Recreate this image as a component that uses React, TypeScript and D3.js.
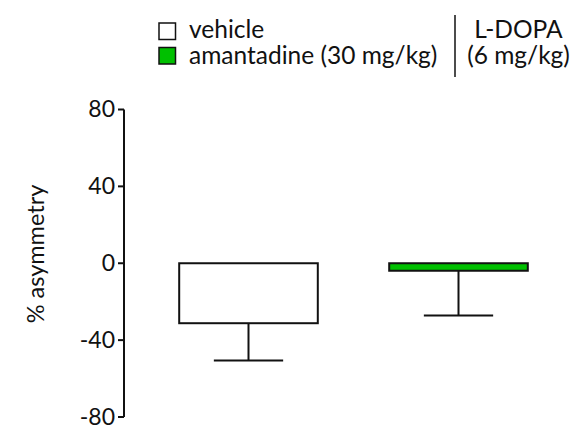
import React from "react";
import * as d3 from "d3";

const categories = ["vehicle", "amantadine (30 mg/kg)"];
const means = [-31.2, -3.9];
const errors = [19.4, 23.3];
const colors = ["#ffffff", "#00c000"];
const yTicks = [80, 40, 0, -40, -80];

const W = 571;
const H = 426;
const FONT = "Lato, 'Open Sans', sans-serif";

export default function App() {
  const y = d3.scaleLinear().domain([-80, 80]).range([417, 109.5]);
  const x = d3
    .scaleBand<string>()
    .domain(categories)
    .range([143.5, 563.5])
    .paddingInner(0.34)
    .paddingOuter(0.17);
  const axisX = 124;
  const bw = x.bandwidth();
  const stroke = "#111";

  return (
    <svg
      width={W}
      height={H}
      style={{ position: "absolute", left: 0, top: 0, background: "#fff" }}
      fontFamily={FONT}
    >
      {/* legend */}
      <g>
        <rect x={159} y={23} width={16.5} height={16.5} fill={colors[0]} stroke={stroke} strokeWidth={1.5} />
        <rect x={159} y={47.5} width={16.5} height={16.5} fill={colors[1]} stroke={stroke} strokeWidth={1.5} />
        <text x={189} y={37.5} fontSize={24.5} fill="#111">{categories[0]}</text>
        <text x={189} y={63.5} fontSize={24.5} fill="#111">{categories[1]}</text>
        <line x1={455} x2={455} y1={15} y2={77} stroke={stroke} strokeWidth={1.5} />
        <text x={518.5} y={37.5} fontSize={24.5} fill="#111" textAnchor="middle">L-DOPA</text>
        <text x={518.5} y={63.5} fontSize={24.5} fill="#111" textAnchor="middle">(6 mg/kg)</text>
      </g>

      {/* y axis */}
      <line x1={axisX} x2={axisX} y1={y(80)} y2={y(-80)} stroke={stroke} strokeWidth={2} />
      {yTicks.map((t) => (
        <g key={t}>
          <line x1={axisX - 6} x2={axisX} y1={y(t)} y2={y(t)} stroke={stroke} strokeWidth={2} />
          <text
            x={axisX - 9}
            y={y(t)}
            dy="0.34em"
            textAnchor="end"
            fontSize={23}
            fill="#111"
          >
            {t}
          </text>
        </g>
      ))}
      <text
        transform={`translate(${44},${254}) rotate(-90)`}
        textAnchor="middle"
        fontSize={23.5}
        fill="#111"
      >
        % asymmetry
      </text>

      {/* bars */}
      {categories.map((c, i) => {
        const x0 = x(c)!;
        const cx = x0 + bw / 2;
        const top = y(Math.max(0, means[i]));
        const bot = y(Math.min(0, means[i]));
        const errY = y(means[i] - errors[i]);
        return (
          <g key={c}>
            <line x1={cx} x2={cx} y1={bot} y2={errY} stroke={stroke} strokeWidth={2} />
            <line x1={cx - bw / 4} x2={cx + bw / 4} y1={errY} y2={errY} stroke={stroke} strokeWidth={2} />
            <rect x={x0} y={top} width={bw} height={bot - top} fill={colors[i]} stroke={stroke} strokeWidth={2} />
          </g>
        );
      })}
    </svg>
  );
}
